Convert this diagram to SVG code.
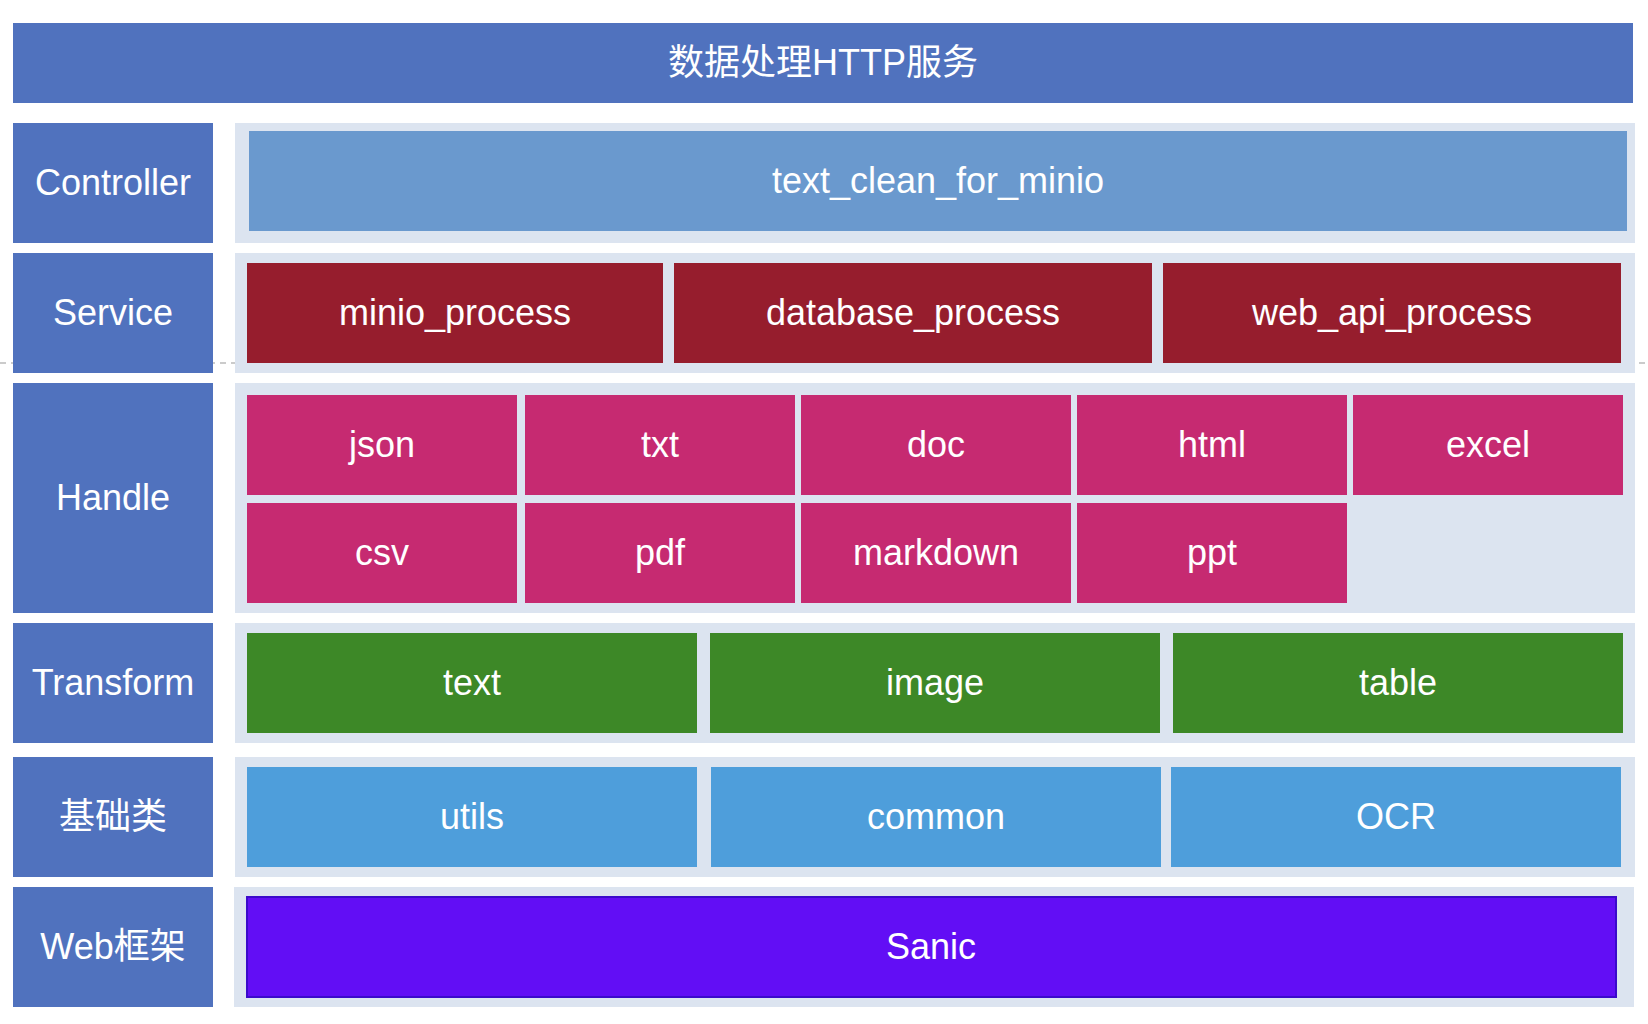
<svg xmlns="http://www.w3.org/2000/svg" width="1648" height="1024" viewBox="0 0 1648 1024">
<style>
text{font-family:"Liberation Sans","Noto Sans CJK SC",Arial,sans-serif;font-size:36px;fill:#fff;text-anchor:middle}
.lbl{fill:#5072BE}
.pnl{fill:#DCE4F0}
.ctl{fill:#6A99CE}
.svc{fill:#961D2D}
.hdl{fill:#C62A71}
.trf{fill:#3D8827}
.bas{fill:#4E9EDB}
.web{fill:#620EF5;stroke:#3B0ACB;stroke-width:2}
.dash{stroke:#BBBBBB;stroke-width:1.5;stroke-dasharray:6 5;fill:none}
</style>
<rect width="1648" height="1024" fill="#fff"/>
<g id="connectors">
<line class="dash" x1="0" y1="363" x2="1648" y2="363"/>
</g>
<g id="title"><rect class="lbl" x="13" y="23" width="1620" height="80"/><text x="823" y="75">数据处理HTTP服务</text></g>

<g id="label-controller"><rect class="lbl" x="13" y="123" width="200" height="120"/><text x="113" y="195">Controller</text></g>
<g id="label-service"><rect class="lbl" x="13" y="253" width="200" height="120"/><text x="113" y="325">Service</text></g>
<g id="label-handle"><rect class="lbl" x="13" y="383" width="200" height="230"/><text x="113" y="510">Handle</text></g>
<g id="label-transform"><rect class="lbl" x="13" y="623" width="200" height="120"/><text x="113" y="695">Transform</text></g>
<g id="label-basic"><rect class="lbl" x="13" y="757" width="200" height="120"/><text x="113" y="829">基础类</text></g>
<g id="label-web"><rect class="lbl" x="13" y="887" width="200" height="120"/><text x="113" y="959">Web框架</text></g>

<g id="panel-controller"><rect class="pnl" x="235" y="123" width="1400" height="120"/></g>
<g id="panel-service"><rect class="pnl" x="235" y="253" width="1400" height="120"/></g>
<g id="panel-handle"><rect class="pnl" x="235" y="383" width="1400" height="230"/></g>
<g id="panel-transform"><rect class="pnl" x="235" y="623" width="1400" height="120"/></g>
<g id="panel-basic"><rect class="pnl" x="235" y="757" width="1400" height="120"/></g>
<g id="panel-web"><rect class="pnl" x="234" y="887" width="1400" height="120"/></g>

<g id="text_clean_for_minio"><rect class="ctl" x="249" y="131" width="1378" height="100"/><text x="938" y="193">text_clean_for_minio</text></g>

<g id="minio_process"><rect class="svc" x="247" y="263" width="416" height="100"/><text x="455" y="325">minio_process</text></g>
<g id="database_process"><rect class="svc" x="674" y="263" width="478" height="100"/><text x="913" y="325">database_process</text></g>
<g id="web_api_process"><rect class="svc" x="1163" y="263" width="458" height="100"/><text x="1392" y="325">web_api_process</text></g>

<g id="json"><rect class="hdl" x="247" y="395" width="270" height="100"/><text x="382" y="457">json</text></g>
<g id="txt"><rect class="hdl" x="525" y="395" width="270" height="100"/><text x="660" y="457">txt</text></g>
<g id="doc"><rect class="hdl" x="801" y="395" width="270" height="100"/><text x="936" y="457">doc</text></g>
<g id="html"><rect class="hdl" x="1077" y="395" width="270" height="100"/><text x="1212" y="457">html</text></g>
<g id="excel"><rect class="hdl" x="1353" y="395" width="270" height="100"/><text x="1488" y="457">excel</text></g>
<g id="csv"><rect class="hdl" x="247" y="503" width="270" height="100"/><text x="382" y="565">csv</text></g>
<g id="pdf"><rect class="hdl" x="525" y="503" width="270" height="100"/><text x="660" y="565">pdf</text></g>
<g id="markdown"><rect class="hdl" x="801" y="503" width="270" height="100"/><text x="936" y="565">markdown</text></g>
<g id="ppt"><rect class="hdl" x="1077" y="503" width="270" height="100"/><text x="1212" y="565">ppt</text></g>

<g id="text"><rect class="trf" x="247" y="633" width="450" height="100"/><text x="472" y="695">text</text></g>
<g id="image"><rect class="trf" x="710" y="633" width="450" height="100"/><text x="935" y="695">image</text></g>
<g id="table"><rect class="trf" x="1173" y="633" width="450" height="100"/><text x="1398" y="695">table</text></g>

<g id="utils"><rect class="bas" x="247" y="767" width="450" height="100"/><text x="472" y="829">utils</text></g>
<g id="common"><rect class="bas" x="711" y="767" width="450" height="100"/><text x="936" y="829">common</text></g>
<g id="OCR"><rect class="bas" x="1171" y="767" width="450" height="100"/><text x="1396" y="829">OCR</text></g>

<g id="Sanic"><rect class="web" x="247" y="897" width="1369" height="100"/><text x="931" y="959">Sanic</text></g>
</svg>
